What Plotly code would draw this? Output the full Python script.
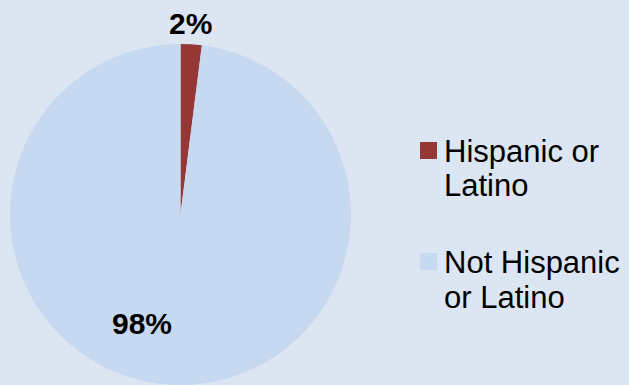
import plotly.graph_objects as go

# Ethnicity breakdown (percent of population)
categories = ["Hispanic or Latino", "Not Hispanic or Latino"]
legend_lines = [["Hispanic or", "Latino"], ["Not Hispanic", "or Latino"]]
values = [2, 98]
colors = ["#953735", "#C6D9F1"]

W, H = 629, 385
BG = "#DCE6F2"
FONT = "Liberation Sans, Arial, sans-serif"


def px(x):
    return x / W


def py(y):
    return 1 - y / H


fig = go.Figure(
    go.Pie(
        labels=categories,
        values=values,
        sort=False,
        direction="clockwise",
        rotation=0,
        marker=dict(colors=colors, line=dict(width=0)),
        textinfo="none",
        hoverinfo="label+percent",
        showlegend=False,
        domain=dict(x=[px(9), px(352)], y=[0, py(44)]),
    )
)

# Percentage labels, taken from the values
label_pos = [(190, 23), (142, 323)]
for v, (x, y) in zip(values, label_pos):
    fig.add_annotation(
        x=px(x), y=py(y), xref="paper", yref="paper",
        text=f"<b>{v}%</b>", showarrow=False,
        xanchor="center", yanchor="middle",
        font=dict(family=FONT, size=30, color="#000000"),
    )

# Legend: colour swatch plus wrapped label
legend_top = [142, 253]
for lines, col, top in zip(legend_lines, colors, legend_top):
    fig.add_shape(
        type="rect", xref="paper", yref="paper",
        x0=px(420), x1=px(437), y0=py(top), y1=py(top + 17),
        fillcolor=col, line=dict(width=0),
    )
    for i, line in enumerate(lines):
        fig.add_annotation(
            x=px(442), y=py(top + 9 + 35 * i), xref="paper", yref="paper",
            text=line, showarrow=False,
            xanchor="left", yanchor="middle",
            font=dict(family=FONT, size=31, color="#000000"),
        )

fig.update_layout(
    width=W, height=H,
    margin=dict(l=0, r=0, t=0, b=0),
    paper_bgcolor=BG, plot_bgcolor=BG,
    showlegend=False,
)

fig.write_html("out.html")
